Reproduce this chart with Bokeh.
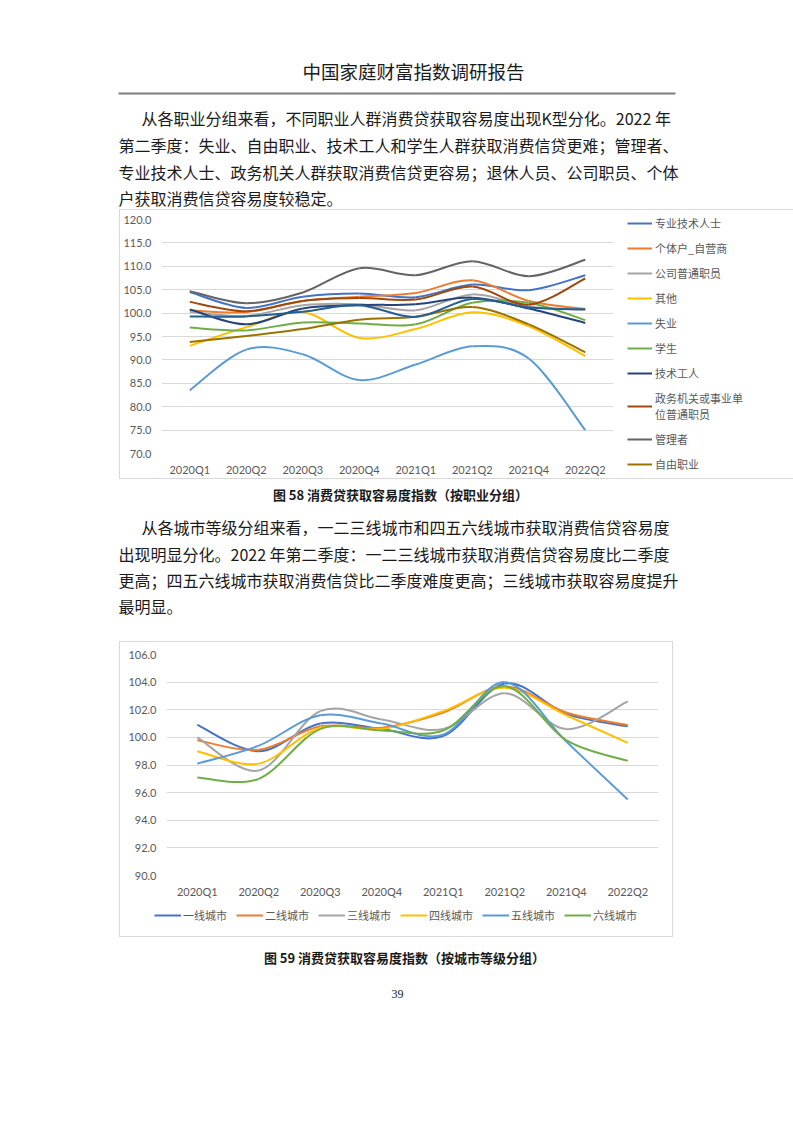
from bokeh.plotting import figure
from bokeh.models import Range1d, FixedTicker, Legend, LegendItem, PrintfTickFormatter
from bokeh.embed import file_html
from bokeh.resources import INLINE
from bokeh.core.properties import value

# ---------------- data ----------------
quarters = ["2020Q1", "2020Q2", "2020Q3", "2020Q4", "2021Q1", "2021Q2", "2021Q4", "2022Q2"]

occ_names = ["专业技术人士", "个体户_自营商", "公司普通职员", "其他", "失业", "学生",
             "技术工人", "政务机关或事业单位普通职员", "管理者", "自由职业", "退休人员"]
occ_prof = [104.5, 101.1, 103.5, 104.2, 103.4, 106.1, 104.9, 108.1]
occ_self = [100.6, 100.2, 102.6, 103.5, 104.3, 107.0, 102.6, 100.9]
occ_staff = [100.3, 99.4, 101.7, 101.9, 100.6, 104.0, 101.4, 100.7]
occ_other = [93.0, 97.0, 100.2, 94.7, 96.6, 100.2, 97.2, 90.8]
occ_unemp = [83.5, 92.2, 91.2, 85.7, 89.0, 92.9, 90.3, 75.0]
occ_student = [96.9, 96.3, 98.0, 97.8, 97.6, 102.2, 102.2, 98.5]
occ_worker = [100.8, 97.6, 101.0, 101.7, 101.9, 103.3, 101.0, 97.9]
occ_gov = [102.4, 100.4, 102.6, 103.2, 102.9, 105.7, 101.8, 107.4]
occ_manager = [104.7, 102.1, 104.4, 109.6, 108.1, 111.1, 107.9, 111.4]
occ_freelance = [93.8, 95.1, 96.6, 98.6, 99.2, 101.3, 97.6, 91.6]
occ_retired = [99.3, 99.3, 100.3, 101.7, 99.2, 103.0, 101.2, 100.8]
occ_series = [occ_prof, occ_self, occ_staff, occ_other, occ_unemp, occ_student,
              occ_worker, occ_gov, occ_manager, occ_freelance, occ_retired]
occ_colors = ["#4472C4", "#ED7D31", "#A5A5A5", "#FFC000", "#5B9BD5", "#70AD47",
              "#264478", "#9E480E", "#636363", "#997300", "#255E91"]
occ_legend_count = 10
occ_yticks = [70, 75, 80, 85, 90, 95, 100, 105, 110, 115, 120]

city_names = ["一线城市", "二线城市", "三线城市", "四线城市", "五线城市", "六线城市"]
city_1 = [100.9, 99.0, 101.0, 100.6, 100.1, 103.9, 101.7, 100.8]
city_2 = [99.8, 99.1, 100.8, 100.7, 101.8, 103.7, 101.8, 100.9]
city_3 = [100.0, 97.6, 101.9, 101.3, 100.6, 103.2, 100.6, 102.6]
city_4 = [99.0, 98.1, 100.7, 100.6, 101.9, 103.6, 101.6, 99.6]
city_5 = [98.1, 99.4, 101.6, 101.0, 100.2, 104.0, 99.7, 95.5]
city_6 = [97.1, 97.0, 100.6, 100.5, 100.5, 103.7, 99.8, 98.3]
city_series = [city_1, city_2, city_3, city_4, city_5, city_6]
city_colors = ["#4472C4", "#ED7D31", "#A5A5A5", "#FFC000", "#5B9BD5", "#70AD47"]
city_yticks = [90, 92, 94, 96, 98, 100, 102, 104, 106]

title_text = "中国家庭财富指数调研报告"
para1 = ["从各职业分组来看，不同职业人群消费贷获取容易度出现K型分化。2022 年",
         "第二季度：失业、自由职业、技术工人和学生人群获取消费信贷更难；管理者、",
         "专业技术人士、政务机关人群获取消费信贷更容易；退休人员、公司职员、个体",
         "户获取消费信贷容易度较稳定。"]
caption1 = "图 58 消费贷获取容易度指数（按职业分组）"
para2 = ["从各城市等级分组来看，一二三线城市和四五六线城市获取消费信贷容易度",
         "出现明显分化。2022 年第二季度：一二三线城市获取消费信贷容易度比二季度",
         "更高；四五六线城市获取消费信贷比二季度难度更高；三线城市获取容易度提升",
         "最明显。"]
caption2 = "图 59 消费贷获取容易度指数（按城市等级分组）"
page_no = "39"

CJK_NAME = "Noto Sans CJK SC"
CJK = value(CJK_NAME)
LAT_NAME = "Lato"
AXIS_COLOR = "#595959"
GRID_COLOR = "#D9D9D9"
BOX = "1px solid #D9D9D9"
PAGE_W = 777


def smooth(ys):
    """Excel-like smoothed line: cubic Bezier segments between data points."""
    xs = list(range(len(ys)))
    n = len(ys)
    out = dict(x0=[], y0=[], x1=[], y1=[], cx0=[], cy0=[], cx1=[], cy1=[])
    for i in range(n - 1):
        xm, ym = (xs[i - 1], ys[i - 1]) if i > 0 else (xs[i], ys[i])
        xp, yp = (xs[i + 2], ys[i + 2]) if i + 2 < n else (xs[i + 1], ys[i + 1])
        out["x0"].append(xs[i]); out["y0"].append(ys[i])
        out["x1"].append(xs[i + 1]); out["y1"].append(ys[i + 1])
        out["cx0"].append(xs[i] + (xs[i + 1] - xm) / 6.0)
        out["cy0"].append(ys[i] + (ys[i + 1] - ym) / 6.0)
        out["cx1"].append(xs[i + 1] - (xp - xs[i]) / 6.0)
        out["cy1"].append(ys[i + 1] - (yp - ys[i]) / 6.0)
    return out


def blank_fig(w, h, xr, yr):
    p = figure(frame_width=w, frame_height=h, x_range=xr, y_range=yr,
               output_backend="svg", title=None, toolbar_location=None,
               x_axis_location=None, y_axis_location=None,
               min_border=0, min_border_left=0, min_border_right=0,
               min_border_top=0, min_border_bottom=0)
    p.grid.visible = False
    p.outline_line_color = None
    return p


def text_fig(top, bottom):
    return blank_fig(PAGE_W, bottom - top, Range1d(0, PAGE_W), Range1d(bottom, top))


def style_chart(p, yticks):
    p.xaxis.ticker = FixedTicker(ticks=list(range(len(quarters))))
    p.xaxis.major_label_overrides = {i: q for i, q in enumerate(quarters)}
    p.yaxis.ticker = FixedTicker(ticks=yticks)
    p.yaxis.formatter = PrintfTickFormatter(format="%.1f")
    for ax in (p.xaxis[0], p.yaxis[0]):
        ax.axis_line_color = None
        ax.major_tick_line_color = None
        ax.minor_tick_line_color = None
        ax.major_tick_out = 0
        ax.major_tick_in = 0
        ax.major_label_text_font = LAT_NAME
        ax.major_label_text_font_size = "11px"
        ax.major_label_text_color = AXIS_COLOR
    p.xaxis.major_label_standoff = 9
    p.yaxis.major_label_standoff = 10
    p.xgrid.visible = False
    p.ygrid.grid_line_color = GRID_COLOR
    p.outline_line_color = None


# ---------------- header + paragraph 1 ----------------
head = text_fig(0, 209)
head.text(x=[413], y=[70], text=[title_text], text_font=CJK, text_font_size="18.5px",
          text_align="center", text_baseline="middle", text_color="#1a1a1a")
head.segment(x0=[118], y0=[93], x1=[675], y1=[93], line_color="#7F7F7F", line_width=2)
head.text(x=[141, 118, 118, 118], y=[117, 144, 171, 197], text=para1, text_font=CJK,
          text_font_size="16px", text_align="left", text_baseline="middle",
          text_color="#1a1a1a")

# ---------------- chart 1 ----------------
p1 = figure(frame_width=452, frame_height=234, x_range=Range1d(-0.5, 7.5),
            y_range=Range1d(70, 120), output_backend="svg", toolbar_location=None,
            title=None, min_border_left=41, min_border_right=148, min_border_top=9,
            min_border_bottom=25)
p1.margin = (0, 0, 0, 119)
style_chart(p1, occ_yticks)
p1.styles = {"border": BOX}
renderers1 = []
for ys, c in zip(occ_series, occ_colors):
    renderers1.append(p1.bezier(source=smooth(ys), x0="x0", y0="y0", x1="x1", y1="y1",
                                cx0="cx0", cy0="cy0", cx1="cx1", cy1="cy1",
                                line_color=c, line_width=2))
legend_labels1 = list(occ_names[:occ_legend_count])
legend_labels1[7] = "政务机关或事业单\n位普通职员"
items1 = [LegendItem(label=legend_labels1[i], renderers=[renderers1[i]])
          for i in range(occ_legend_count)]
leg1 = Legend(items=items1, location=(14, -19), orientation="vertical",
              glyph_width=25, glyph_height=16, label_height=16, spacing=9,
              label_standoff=3, padding=0, margin=0, border_line_color=None,
              background_fill_alpha=0, label_text_font=CJK_NAME,
              label_text_font_size="11px", label_text_color=AXIS_COLOR,
              label_text_line_height=1.0)
p1.add_layout(leg1, "right")

# ---------------- caption 1 + paragraph 2 ----------------
mid = text_fig(479, 641)
mid.text(x=[400], y=[494], text=[caption1], text_font=CJK, text_font_size="13px",
         text_font_style="bold", text_align="center", text_baseline="middle",
         text_color="#1a1a1a")
mid.text(x=[141, 118, 118, 118], y=[526, 553, 579, 605], text=para2, text_font=CJK,
         text_font_size="16px", text_align="left", text_baseline="middle",
         text_color="#1a1a1a")

# ---------------- chart 2 (plot part) ----------------
p2 = figure(frame_width=492, frame_height=221, x_range=Range1d(-0.5, 7.5),
            y_range=Range1d(90, 106), output_backend="svg", toolbar_location=None,
            title=None, min_border_left=46, min_border_right=14, min_border_top=12,
            min_border_bottom=25)
p2.margin = (0, 0, 0, 119)
style_chart(p2, city_yticks)
p2.styles = {"border-top": BOX, "border-left": BOX, "border-right": BOX,
             "border-bottom": "none"}
for ys, c in zip(city_series, city_colors):
    p2.bezier(source=smooth(ys), x0="x0", y0="y0", x1="x1", y1="y1",
              cx0="cx0", cy0="cy0", cx1="cx1", cy1="cy1", line_color=c, line_width=2)

# ---------------- chart 2 (legend strip, same box) ----------------
# the strip's own y range lies far below the series values, so its key lines
# (built from the same series) stay out of view and only feed the legend swatches
p2_leg = blank_fig(552, 36, Range1d(0, 552), Range1d(0, 36))
p2_leg.margin = (0, 0, 0, 119)
p2_leg.styles = {"border-left": BOX, "border-right": BOX, "border-bottom": BOX,
                 "border-top": "none"}
leg_renderers2 = [p2_leg.line(x=list(range(len(ys))), y=ys, line_color=c, line_width=2)
                  for ys, c in zip(city_series, city_colors)]
items2 = [LegendItem(label=n, renderers=[r]) for n, r in zip(city_names, leg_renderers2)]
leg2 = Legend(items=items2, location=(34, 13), orientation="horizontal",
              glyph_width=27, glyph_height=14, label_height=14, spacing=9,
              label_standoff=2, padding=0, margin=0, border_line_color=None,
              background_fill_alpha=0, label_text_font=CJK_NAME,
              label_text_font_size="11px", label_text_color=AXIS_COLOR)
p2_leg.add_layout(leg2)

# ---------------- caption 2 + page number ----------------
foot = text_fig(937, 1010)
foot.text(x=[404], y=[957], text=[caption2], text_font=CJK, text_font_size="13px",
          text_font_style="bold", text_align="center", text_baseline="middle",
          text_color="#1a1a1a")
foot.text(x=[397], y=[993], text=[page_no], text_font=value("Liberation Serif"),
          text_font_size="12px", text_align="center", text_baseline="middle",
          text_color="#1a1a1a")

open("out.html", "w").write(file_html([head, p1, mid, p2, p2_leg, foot], INLINE))
